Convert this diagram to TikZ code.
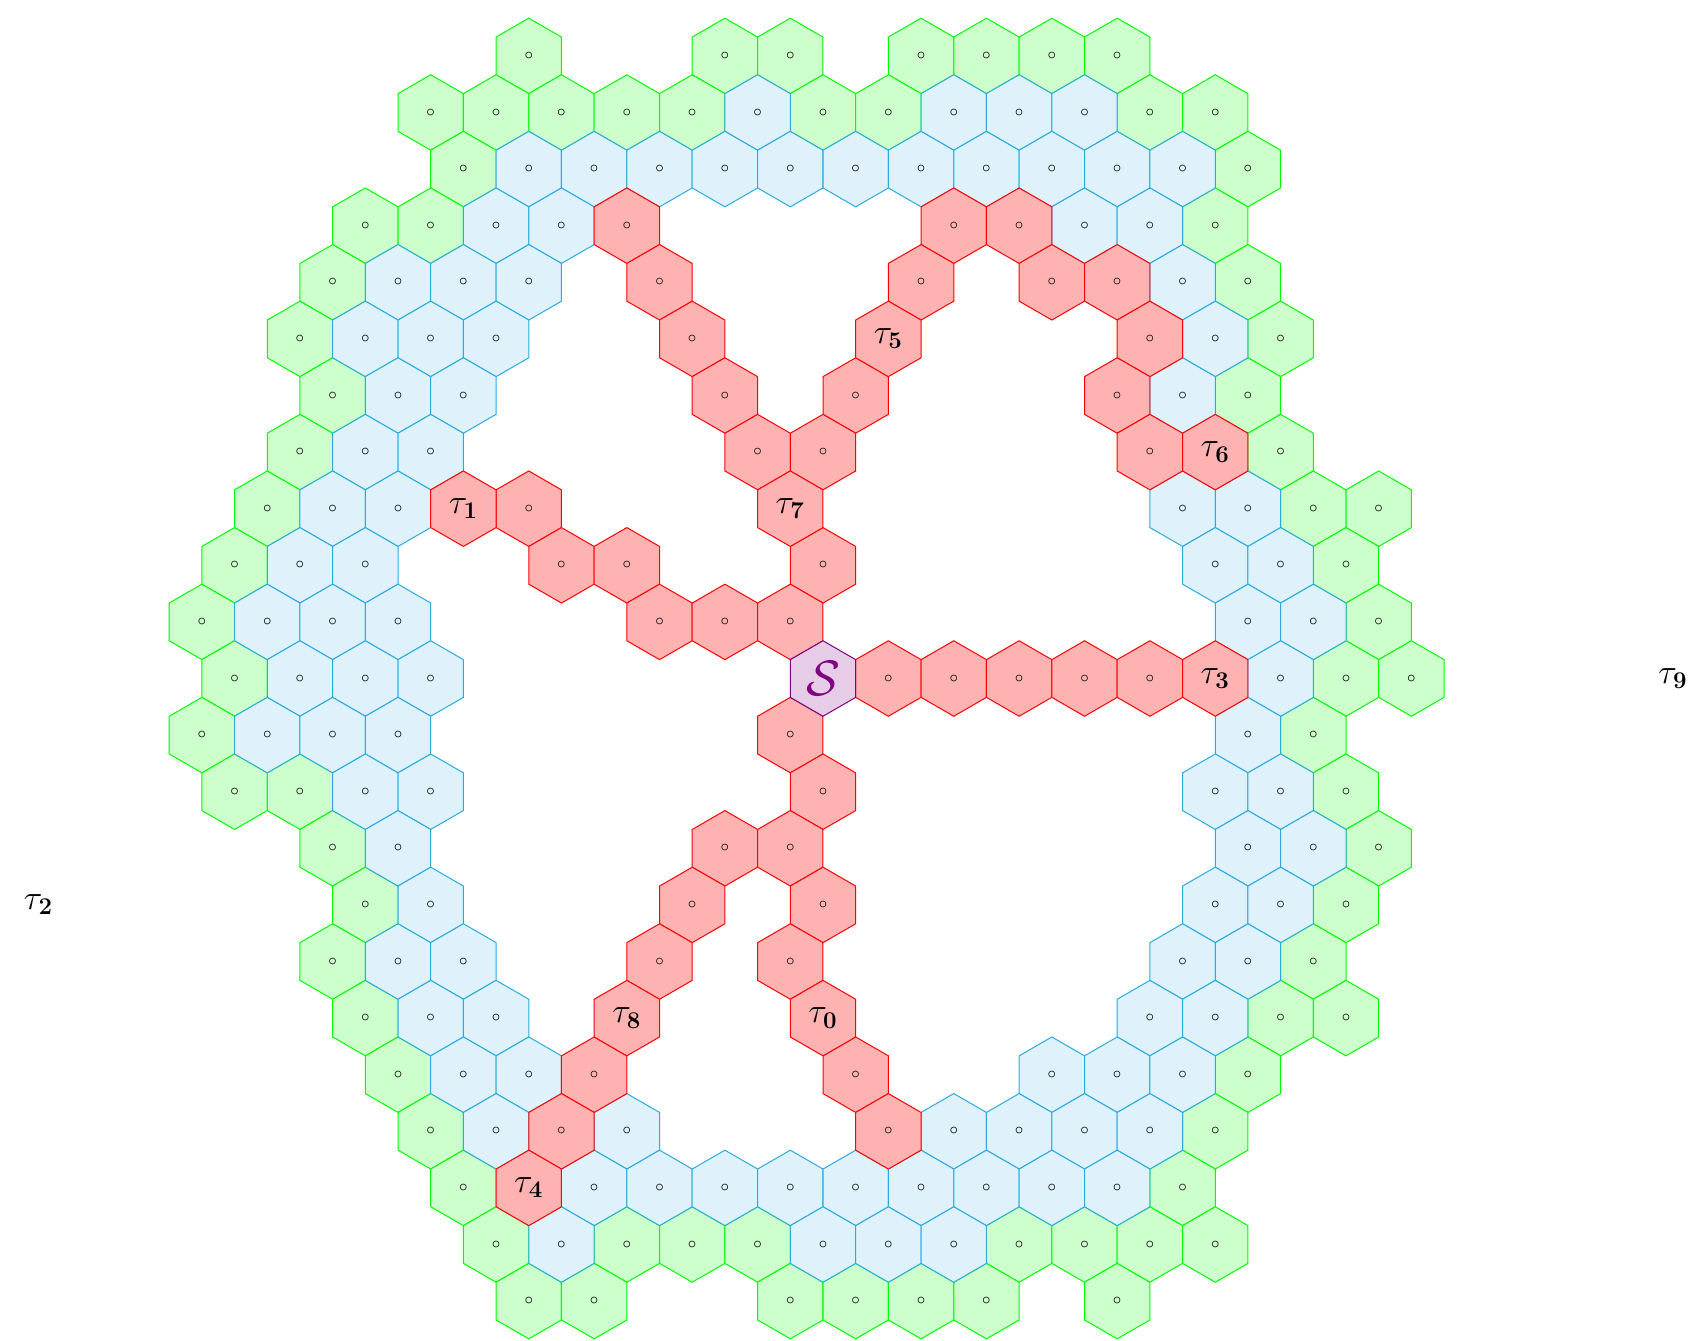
\documentclass[tikz,border=0pt]{standalone}
\usepackage{amsmath}
\usetikzlibrary{shapes.geometric}
\definecolor{hexblue}{RGB}{41,171,226}
\definecolor{hexpurple}{RGB}{128,0,128}
\def\hexat[#1](#2,#3)#4{\node[#1] (r#2c#3) at (#3,11-#2) {#4};}

\begin{document}
\begin{tikzpicture}[x=16.345pt, y=28.3pt,
		cell/.style={regular polygon, regular polygon sides=6, shape border rotate=30,
			minimum size=37.74pt, inner sep=0pt, line width=0.5pt, font=\footnotesize},
		gcell/.style={cell, draw=green, fill=green!20},
		bcell/.style={cell, draw=hexblue, fill=hexblue!15},
		rcell/.style={cell, draw=red, fill=red!30},
		scell/.style={cell, draw=hexpurple, fill=hexpurple!20, text=hexpurple, font=\Huge},
		tlabel/.style={font=\LARGE}]
				\useasboundingbox (-411.5pt,-330.75pt) rectangle (434pt,339.25pt);
				
				\foreach \r/\us in {0/{-9,-3,-1,3,5,7,9}, 1/{-12,-10,-8,-6,-4,0,2,10,12}, 2/{-11,13},
					3/{-14,-12,12}, 4/{-15,13}, 5/{-16,14}, 6/{-15,13}, 7/{-16,14}, 8/{-17,15,17},
					9/{-18,16}, 10/{-19,17}, 11/{-18,16,18}, 12/{-19,15}, 13/{-18,-16,16},
					14/{-15,17}, 15/{-14,16}, 16/{-15,15}, 17/{-14,14,16}, 18/{-13,13},
					19/{-12,12}, 20/{-11,11}, 21/{-10,-6,-4,-2,6,8,10,12}, 22/{-9,-7,-1,1,3,5,9}}
					\foreach \u in \us \hexat[gcell](\r,\u){$\circ$};
				
				\foreach \r/\us in {1/{-2,4,6,8}, 2/{-9,-7,-5,-3,-1,1,3,5,7,9,11}, 3/{-10,-8,8,10},
					4/{-13,-11,-9,11}, 5/{-14,-12,-10,12}, 6/{-13,-11,11}, 7/{-14,-12},
					8/{-15,-13,11,13}, 9/{-16,-14,12,14}, 10/{-17,-15,-13,13,15},
					11/{-16,-14,-12,14}, 12/{-17,-15,-13,13}, 13/{-14,-12,12,14}, 14/{-13,13,15},
					15/{-12,12,14}, 16/{-13,-11,11,13}, 17/{-12,-10,10,12}, 18/{-11,-9,7,9,11},
					19/{-10,-6,4,6,8,10}, 20/{-7,-5,-3,-1,1,3,5,7,9}, 21/{-8,0,2,4}}
					\foreach \u in \us \hexat[bcell](\r,\u){$\circ$};
				
				\foreach \r/\us in {3/{-6,4,6}, 4/{-5,3,7,9}, 5/{-4,10}, 6/{-3,1,9}, 7/{-2,0,10},
					8/{-9}, 9/{-8,-6,0}, 10/{-5,-3,-1}, 11/{2,4,6,8,10}, 12/{-1}, 13/{0},
					14/{-3,-1}, 15/{-4,0}, 16/{-5,-1}, 18/{-7,1}, 19/{-8,2}}
					\foreach \u in \us \hexat[rcell](\r,\u){$\circ$};
				
				\foreach \r/\u/\k in {17/0/0, 8/-11/1, 11/12/3, 20/-9/4, 5/2/5, 7/12/6, 8/-1/7, 17/-6/8}
					\hexat[rcell, tlabel](\r,\u){$\tau_{\mathbf{\k}}$};
				
				\hexat[scell](11,0){$\mathcal{S}$};
				
				\node[tlabel] (t2) at (-24,-4) {$\tau_{\mathbf{2}}$};
				\node[tlabel] (t9) at (26,0) {$\tau_{\mathbf{9}}$};
			\end{tikzpicture}
\end{document}
